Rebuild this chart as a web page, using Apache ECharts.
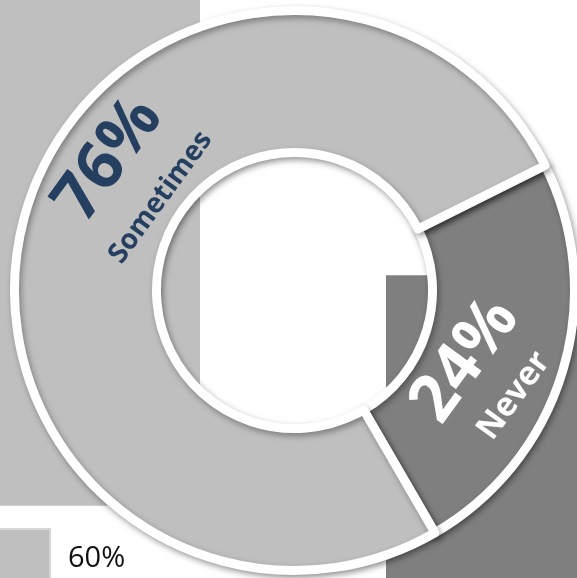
<!DOCTYPE html>
<html>
<head>
<meta charset="utf-8">
<script src="https://cdn.jsdelivr.net/npm/echarts/dist/echarts.min.js"></script>
<style>
html,body{margin:0;padding:0;background:#ffffff;}
#chart{width:577px;height:578px;}
</style>
</head>
<body>
<div id="chart"></div>
<script>
// ---- data ----
const sliceNames = ['Never', 'Sometimes'];
const sliceValues = [24, 76];
const backCategories = ['A', 'B'];
const backBase = [12.5, 0];
const backValues = [87.5, 52.4];
const legendName = '60%';
const edgeLabel = '40%';

// ---- chart ----
const FONT = '"Open Sans", "Liberation Sans", sans-serif';
const chart = echarts.init(document.getElementById('chart'), null, {renderer: 'canvas'});
const cx = 294.5, cy = 290.5;
const labelPlace = {
  Sometimes: {angle: 145, r: 195, rotate: 54},
  Never: {angle: -24.2, r: 214, rotate: 54}
};
const labelColor = {Sometimes: '#243F60', Never: '#ffffff'};
const nameSize = {Sometimes: 28, Never: 33};
const lineH = {Sometimes: 64, Never: 60};

const option = {
  animation: false,
  backgroundColor: '#ffffff',
  grid: {left: -113, width: 812, top: 0, height: 578, containLabel: false, outerBoundsMode: 'none'},
  xAxis: {type: 'category', data: backCategories, show: false},
  yAxis: {type: 'value', min: 0, max: 100, show: false},
  legend: {
    data: [legendName],
    left: -13, top: 528, padding: 0,
    icon: 'rect', itemWidth: 62, itemHeight: 60,
    itemStyle: {borderColor: '#d6d6d6', borderWidth: 2},
    textStyle: {fontFamily: FONT, fontSize: 29, color: '#111111', padding: [0, 0, 0, 13]},
    selectedMode: false
  },
  graphic: [{
    type: 'text', x: 13, y: 357, silent: true,
    style: {text: edgeLabel, fontFamily: FONT, fontSize: 29, fill: '#111111', align: 'right', verticalAlign: 'middle'}
  }],
  series: [
    {
      name: 'base', type: 'bar', stack: 's', barWidth: 220, silent: true,
      itemStyle: {color: 'rgba(0,0,0,0)'},
      data: backBase
    },
    {
      name: legendName, type: 'bar', stack: 's', barWidth: 220, silent: true,
      itemStyle: {color: '#BFBFBF'},
      data: backValues.map((v, i) => i === 1 ? {value: v, itemStyle: {color: '#7F7F7F'}} : v)
    },
    {
      name: 'donut', type: 'pie', silent: true,
      center: [cx, cy], radius: [138, 280], startAngle: 26.5, clockwise: true,
      avoidLabelOverlap: false,
      color: ['#7F7F7F', '#BFBFBF'],
      itemStyle: {
        borderColor: '#ffffff', borderWidth: 9,
        shadowBlur: 6, shadowOffsetX: 2, shadowOffsetY: 3, shadowColor: 'rgba(0,0,0,0.35)'
      },
      emphasis: {disabled: true},
      labelLine: {show: false},
      label: {
        show: true, position: 'inside',
        formatter: p => '{v|' + p.value + '%}\n{n|' + p.name + '}'
      },
      labelLayout: function (params) {
        const name = sliceNames[params.dataIndex];
        const p = labelPlace[name];
        const a = p.angle * Math.PI / 180;
        return {
          x: cx + p.r * Math.cos(a),
          y: cy - p.r * Math.sin(a),
          rotate: p.rotate,
          align: 'center', verticalAlign: 'middle'
        };
      },
      data: sliceNames.map((n, i) => ({
        name: n, value: sliceValues[i],
        label: {
          color: labelColor[n],
          rich: {
            v: {fontFamily: FONT, fontWeight: 'bold', fontSize: 66, lineHeight: lineH[n], color: labelColor[n]},
            n: {fontFamily: FONT, fontWeight: 'bold', fontSize: nameSize[n], lineHeight: lineH[n], color: labelColor[n]}
          }
        }
      }))
    }
  ]
};
chart.setOption(option);
</script>
</body>
</html>
